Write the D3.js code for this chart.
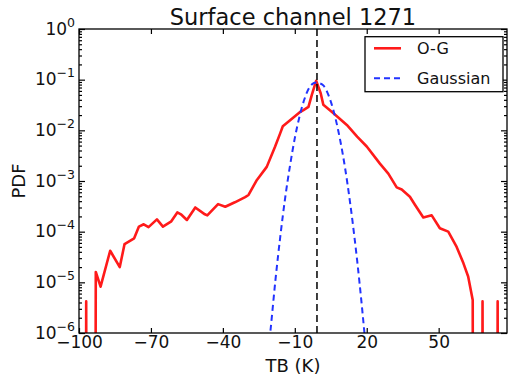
<!DOCTYPE html>
<html>
<head>
<meta charset="utf-8">
<script src="https://cdn.jsdelivr.net/npm/d3@7"></script>
<style>
body { margin: 0; background: #fff; }
svg { display: block; font-family: "DejaVu Sans", sans-serif; }
</style>
</head>
<body>
<script>
let width = 508;
let height = 375;
let margin = {top: 29, right: 1, bottom: 42, left: 79};

// O-G histogram (0 = empty bin, drops below the axis)
let ogTB = [-99, -98, -97, -96, -94, -93, -91, -87, -83, -81, -77, -75, -73, -71, -67.5, -65, -61.5, -59, -57.5, -55,
  -51.5, -47.5, -46.5, -42, -39, -35, -30.7, -29.3, -25.8, -21.7, -18.2, -16.1, -15, -11.2, -7.8, -6.4, -4.3, -2.9, -1.1,
  0.8, 1.9, 6, 11.7, 16, 20, 25.5, 29, 32.5, 34.6, 38, 40.1, 43.6, 47.1, 50.5, 54, 57.5, 60.3, 62.3, 64.2, 65,
  67.5, 68.3, 69.1, 73.8, 74.6, 75.4, 78];
let ogPDF = [0, 0, 4.2e-6, 0, 0, 1.6e-5, 8.2e-6, 4.2e-5, 2.0e-5, 5.7e-5, 7.4e-5, 1.26e-4, 1.4e-4, 1.23e-4, 1.75e-4, 1.26e-4, 1.6e-4, 2.4e-4, 2.2e-4, 1.7e-4,
  3.0e-4, 2.2e-4, 2.1e-4, 3.5e-4, 3.1e-4, 3.8e-4, 4.8e-4, 5.3e-4, 1.05e-3, 1.9e-3, 4.8e-3, 8.7e-3, 1.2e-2, 1.7e-2, 2.3e-2, 2.5e-2, 2.9e-2, 5.0e-2, 9.5e-2,
  5.4e-2, 3.2e-2, 2.2e-2, 1.28e-2, 7.5e-3, 4.8e-3, 2.2e-3, 1.4e-3, 7.5e-4, 6.8e-4, 4.9e-4, 3.4e-4, 1.9e-4, 2.1e-4, 1.17e-4, 1.0e-4, 5.0e-5, 2.4e-5, 1.3e-5, 4.5e-6, 0,
  0, 4.2e-6, 0, 0, 4.2e-6, 0, 0];

// Gaussian fit
let gaussTB = [-21, -20, -18, -16, -14, -12, -10, -8, -6, -4, -2, -1, 0, 2, 4, 6, 8, 10, 12, 14, 16, 18, 20];
let gaussPDF = [4.5e-7, 1.3e-6, 1.2e-5, 8.4e-5, 4.7e-4, 2.0e-3, 7.0e-3, 1.9e-2, 4.1e-2, 6.9e-2, 8.6e-2, 8.8e-2, 8.6e-2, 7.6e-2, 5.0e-2, 2.6e-2, 1.05e-2, 3.4e-3, 8.6e-4, 1.7e-4, 2.7e-5, 3.3e-6, 3.2e-7];

let meanTB = -0.75;
let xTicks = [-100, -70, -40, -10, 20, 50];
let yExponents = [-6, -5, -4, -3, -2, -1, 0];

let svg = d3.select("body").append("svg").attr("width", width).attr("height", height);

let x = d3.scaleLinear().domain([-100, 78.5]).range([margin.left, width - margin.right]);
let y = d3.scaleLog().domain([1e-6, 1]).range([height - margin.bottom, margin.top]);
let yv = (p) => p > 0 ? y(p) : y(1e-30);

let x0 = margin.left, x1 = width - margin.right, y0 = height - margin.bottom, y1 = margin.top;

svg.append("clipPath").attr("id", "plot").append("rect")
  .attr("x", x0).attr("y", y1).attr("width", x1 - x0).attr("height", y0 - y1);

let plot = svg.append("g").attr("clip-path", "url(#plot)");

let line = d3.line().x((d) => x(d[0])).y((d) => yv(d[1]));

plot.append("path").datum(ogTB.map((t, i) => [t, ogPDF[i]]))
  .attr("d", line).attr("fill", "none").attr("stroke", "#ff1a1a").attr("stroke-width", 2.6)
  .attr("stroke-linejoin", "round");

plot.append("path").datum(gaussTB.map((t, i) => [t, gaussPDF[i]]))
  .attr("d", d3.line().curve(d3.curveMonotoneX).x((d) => x(d[0])).y((d) => yv(d[1])))
  .attr("fill", "none").attr("stroke", "#2233ff").attr("stroke-width", 2).attr("stroke-dasharray", "6,4");

plot.append("line").attr("x1", x(meanTB)).attr("x2", x(meanTB)).attr("y1", y0).attr("y2", y1)
  .attr("stroke", "black").attr("stroke-width", 1.5).attr("stroke-dasharray", "7,4");

// minor log ticks
let minor = [];
for (let e = -6; e < 0; e++) for (let m = 2; m < 10; m++) minor.push(m * Math.pow(10, e));
let majorY = yExponents.map((e) => Math.pow(10, e));

let axisStyle = (g) => {
  g.select(".domain").remove();
  g.selectAll("line").attr("stroke", "black").attr("stroke-width", 1.2);
};

svg.append("g").attr("transform", `translate(0,${y0})`)
  .call(d3.axisBottom(x).tickValues(xTicks).tickSizeInner(-5).tickSizeOuter(0).tickPadding(3))
  .call(axisStyle)
  .call((g) => g.selectAll("text").attr("font-size", 17).attr("font-family", "DejaVu Sans").attr("fill", "#111"));

svg.append("g").attr("transform", `translate(0,${y1})`)
  .call(d3.axisTop(x).tickValues(xTicks).tickSizeInner(-5).tickSizeOuter(0).tickFormat(""))
  .call(axisStyle);

svg.append("g").attr("transform", `translate(${x0},0)`)
  .call(d3.axisLeft(y).tickValues(majorY).tickSizeInner(-6).tickSizeOuter(0).tickFormat(""))
  .call(axisStyle);
svg.append("g").attr("transform", `translate(${x0},0)`)
  .call(d3.axisLeft(y).tickValues(minor).tickSizeInner(-3).tickSizeOuter(0).tickFormat(""))
  .call(axisStyle);
svg.append("g").attr("transform", `translate(${x1},0)`)
  .call(d3.axisRight(y).tickValues(majorY).tickSizeInner(-6).tickSizeOuter(0).tickFormat(""))
  .call(axisStyle);
svg.append("g").attr("transform", `translate(${x1},0)`)
  .call(d3.axisRight(y).tickValues(minor).tickSizeInner(-3).tickSizeOuter(0).tickFormat(""))
  .call(axisStyle);

svg.append("rect").attr("x", x0).attr("y", y1).attr("width", x1 - x0).attr("height", y0 - y1)
  .attr("fill", "none").attr("stroke", "black").attr("stroke-width", 1.3);

// y tick labels 10^n
let yLab = svg.append("g").selectAll("text").data(yExponents).enter().append("text")
  .attr("x", x0 - 4).attr("y", (e) => y(Math.pow(10, e)) + 5.5)
  .attr("text-anchor", "end").attr("fill", "#111");
yLab.append("tspan").attr("font-size", 17).text("10");
yLab.append("tspan").attr("font-size", 12.5).attr("dy", -8).text((e) => e < 0 ? "\u2212" + (-e) : e);

svg.append("text").attr("x", (x0 + x1) / 2).attr("y", 25).attr("text-anchor", "middle")
  .attr("font-size", 22.5).attr("fill", "#111").text("Surface channel 1271");

svg.append("text").attr("x", (x0 + x1) / 2).attr("y", 371.5).attr("text-anchor", "middle")
  .attr("font-size", 18).attr("fill", "#111").text("TB (K)");

svg.append("text").attr("transform", `translate(25,${(y0 + y1) / 2}) rotate(-90)`).attr("text-anchor", "middle")
  .attr("font-size", 18).attr("fill", "#111").text("PDF");

// legend
let legend = svg.append("g");
legend.append("rect").attr("x", 365).attr("y", 36.7).attr("width", 138).attr("height", 55)
  .attr("fill", "white").attr("stroke", "black").attr("stroke-width", 1.3);
let legendItems = [
  {label: "O-G", color: "#ff1a1a", dash: null, w: 2.6},
  {label: "Gaussian", color: "#2233ff", dash: "6,4", w: 2}
];
legendItems.forEach((it, i) => {
  let ly = 48.3 + i * 30;
  legend.append("line").attr("x1", 374).attr("x2", 401).attr("y1", ly).attr("y2", ly)
    .attr("stroke", it.color).attr("stroke-width", it.w).attr("stroke-dasharray", it.dash);
  legend.append("text").attr("x", 417).attr("y", ly + 5.8).attr("font-size", 16).attr("fill", "#111").text(it.label);
});
</script>
</body>
</html>
